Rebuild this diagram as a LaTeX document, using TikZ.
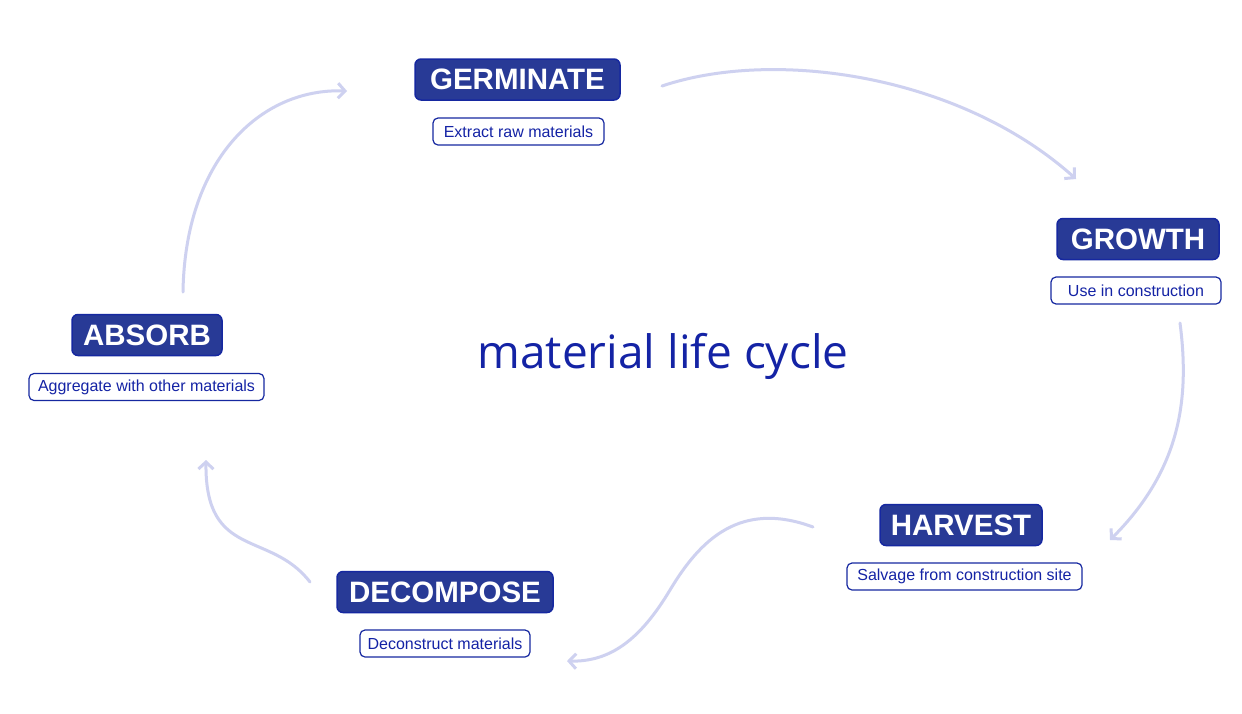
\documentclass[tikz,border=0pt]{standalone}
\usepackage{fontspec}
\setmainfont{Liberation Sans}
\newfontfamily\titlefont{Open Sans}
\usetikzlibrary{arrows.meta}
\definecolor{boxfill}{RGB}{40,58,150}
\definecolor{boxborder}{RGB}{22,40,160}
\definecolor{textblue}{RGB}{20,35,165}
\definecolor{arrowcol}{RGB}{206,209,240}
\tikzset{
  stage/.style={draw=boxborder, fill=boxfill, line width=1.5pt, rounded corners=6pt,
    text=white, font=\fontsize{29.5}{30}\selectfont\bfseries, inner xsep=6pt,
    minimum height=41pt, inner ysep=0pt},
  desc/.style={draw=boxborder, fill=white, line width=1.2pt, rounded corners=5pt,
    text=textblue, font=\fontsize{16}{16}\selectfont, inner xsep=6pt,
    minimum height=27pt, inner ysep=0pt},
  flow/.style={draw=arrowcol, line width=3pt, line cap=round,
    -{Straight Barb[length=7pt,width=15pt,line width=3pt]}},
}
\begin{document}
\begin{tikzpicture}[x=1pt,y=-1pt]
\useasboundingbox (0,0) rectangle (1242,713);
\fill[white] (0,0) rectangle (1242,713);

\node[stage, minimum width=205pt] (germ) at (517.5,79.5) {GERMINATE};
\node[desc, minimum width=171pt] (germd) at (518.5,131.5) {Extract raw materials};
\node[stage, minimum width=162pt] (grow) at (1138,239) {GROWTH};
\node[desc, minimum width=170pt] (growd) at (1136,290.5) {Use in construction};
\node[stage, minimum width=150pt] (abs) at (147,335) {ABSORB};
\node[desc, minimum width=235pt] (absd) at (146.5,387) {Aggregate with other materials};
\node[stage, minimum width=162pt] (harv) at (961,525) {HARVEST};
\node[desc, minimum width=235pt] (harvd) at (964.5,576.5) {Salvage from construction site};
\node[stage, minimum width=216pt] (dec) at (445,592) {DECOMPOSE};
\node[desc, minimum width=170pt] (decd) at (445,643.5) {Deconstruct materials};

\node[text=textblue, font=\titlefont\fontsize{46}{46}\selectfont] (title) at (663,356) {material life cycle};

\coordinate (a1s) at (183,292);
\coordinate (a1e) at (347,91);
\coordinate (a2s) at (662,86);
\coordinate (a2e) at (1076,179);
\coordinate (a3s) at (1180,323);
\coordinate (a3e) at (1110,540);
\coordinate (a4s) at (813,527);
\coordinate (a4m) at (670,590);
\coordinate (a4e) at (567,661);
\coordinate (a5s) at (310,582);
\coordinate (a5e) at (206,460);

\draw[flow] (a1s) .. controls (185,160) and (260,88) .. (a1e);
\draw[flow] (a2s) .. controls (775,48) and (960,75) .. (a2e);
\draw[flow] (a3s) .. controls (1190,400) and (1180,470) .. (a3e);
\draw[flow] (a4s) .. controls (740,500) and (700,540) .. (a4m) .. controls (640,640) and (610,662) .. (a4e);
\draw[flow] (a5s) .. controls (270,530) and (205,560) .. (a5e);
\end{tikzpicture}
\end{document}
